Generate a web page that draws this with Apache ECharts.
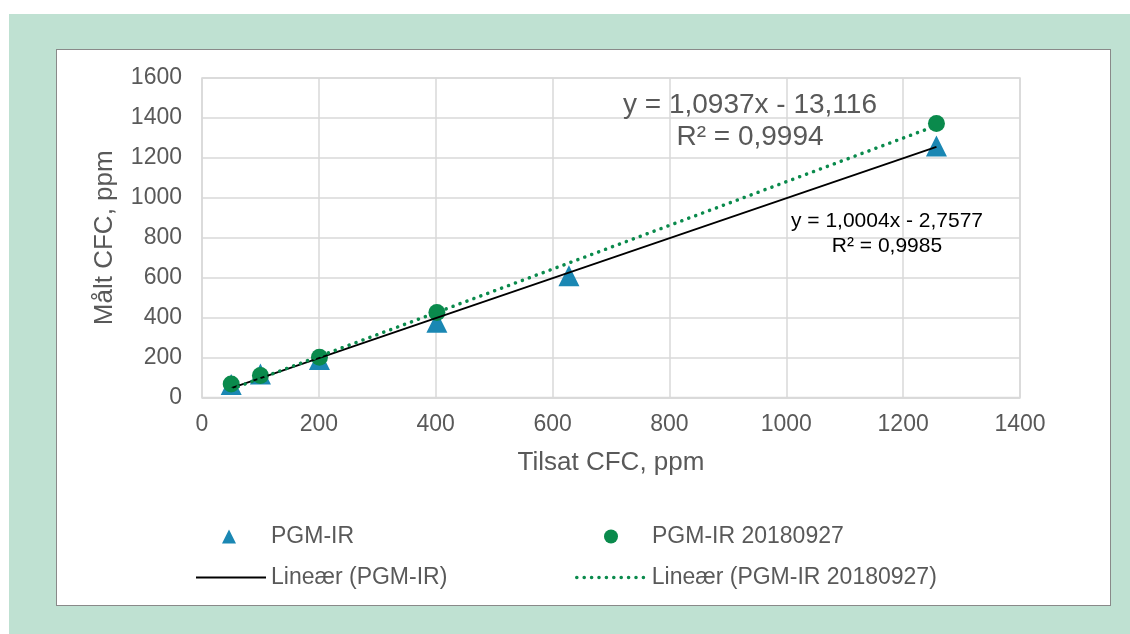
<!DOCTYPE html>
<html>
<head>
<meta charset="utf-8">
<script src="https://cdn.jsdelivr.net/npm/echarts@6/dist/echarts.min.js"></script>
<style>
html,body{margin:0;padding:0;background:#fff;overflow:hidden}
#bg{position:absolute;left:9px;top:14px;width:1121px;height:620px;background:#bfe1d2}
#box{position:absolute;left:56px;top:49px;width:1053px;height:555px;background:#fff;border:1px solid #898989}
#chart{position:absolute;left:0;top:0;width:1130px;height:634px}
</style>
</head>
<body>
<div id="bg"></div>
<div id="box"></div>
<div id="chart"></div>
<script>
// tilsat (x) og målt (y) CFC, ppm
var tilsat = [50, 100, 201, 402, 628, 1257];
var maalt = [65, 118, 190, 377, 610, 1260];
var tilsat2 = [50, 100, 201, 402, 1257];
var maalt2 = [68, 110, 202, 426, 1372];
// trendlinjer: stigning, skjæring (fra Excel-etikettene)
var trend1 = [1.0004, -2.7577];
var trend2 = [1.0937, -13.116];
var navn = ['PGM-IR', 'PGM-IR 20180927', 'Lineær (PGM-IR)', 'Lineær (PGM-IR 20180927)'];
var etikett1 = 'y = 1,0004x - 2,7577\nR² = 0,9985';
var etikett2 = 'y = 1,0937x - 13,116\nR² = 0,9994';

var font = '"Liberation Sans", Arial, sans-serif';
var blaa = '#1a87b3';
var gronn = '#0a8a4c';
var prikker = {color: gronn, width: 3.5, type: [0.1, 7.3], cap: 'round'};

function par(xs, ys) {
	return xs.map(function (x, i) { return [x, ys[i]]; });
}
function linje(xs, t) {
	var a = Math.min.apply(null, xs), b = Math.max.apply(null, xs);
	return [[a, t[0] * a + t[1]], [b, t[0] * b + t[1]]];
}
function legende(name, left, top, w, tekstLuft) {
	return {
		data: [name], left: left, top: top, padding: 0,
		itemWidth: w, itemHeight: 14, selectedMode: false,
		itemStyle: w > 20 ? {opacity: 0} : {},
		textStyle: {color: '#595959', fontSize: 23, fontFamily: font, padding: [0, 0, 0, tekstLuft]}
	};
}

var leg4 = legende(navn[3], 575, 566, 70, 0);
leg4.lineStyle = prikker;

var myChart = echarts.init(document.getElementById('chart'));
myChart.setOption({
	animation: false,
	textStyle: {fontFamily: font},
	grid: {left: 202, top: 78, right: 110, bottom: 236.5, show: true, borderColor: '#d9d9d9', borderWidth: 1.5},
	xAxis: {
		type: 'value', min: 0, max: 1400, interval: 200,
		name: 'Tilsat CFC, ppm', nameLocation: 'middle', nameGap: 52,
		nameTextStyle: {color: '#595959', fontSize: 26},
		axisLine: {show: true, lineStyle: {color: '#d9d9d9', width: 1.5}},
		axisTick: {show: false},
		axisLabel: {color: '#595959', fontSize: 23, margin: 16, formatter: function (v) { return String(v); }},
		splitLine: {lineStyle: {color: '#d9d9d9', width: 1.5}}
	},
	yAxis: {
		type: 'value', min: 0, max: 1600, interval: 200,
		name: 'Målt CFC, ppm', nameLocation: 'middle', nameGap: 84,
		nameTextStyle: {color: '#595959', fontSize: 26},
		axisLine: {show: false},
		axisTick: {show: false},
		axisLabel: {color: '#595959', fontSize: 23, margin: 20, formatter: function (v) { return String(v); }},
		splitLine: {lineStyle: {color: '#d9d9d9', width: 1.5}}
	},
	legend: [
		legende(navn[0], 222, 525, 14, 30),
		legende(navn[1], 604, 525, 14, 29),
		legende(navn[2], 195, 566, 70, 0),
		leg4
	],
	series: [
		{name: navn[0], type: 'scatter', symbol: 'triangle', symbolSize: 21, itemStyle: {color: blaa, opacity: 1}, data: par(tilsat, maalt), z: 2},
		{name: navn[1], type: 'scatter', symbol: 'circle', symbolSize: 17, itemStyle: {color: gronn, opacity: 1}, data: par(tilsat2, maalt2), z: 3},
		{name: navn[2], type: 'line', symbol: 'none', lineStyle: {color: '#000', width: 1.8}, itemStyle: {color: '#000'}, data: linje(tilsat, trend1), z: 4},
		{name: navn[3], type: 'line', symbol: 'none', lineStyle: prikker, itemStyle: {color: gronn}, data: linje(tilsat2, trend2), z: 5}
	],
	graphic: [
		{type: 'text', x: 750, y: 121, z: 100, style: {text: etikett2, fill: '#595959', font: '28px ' + font, align: 'center', verticalAlign: 'middle', lineHeight: 32}},
		{type: 'text', x: 887, y: 233.5, z: 100, style: {text: etikett1, fill: '#000', font: '21px ' + font, align: 'center', verticalAlign: 'middle', lineHeight: 25}}
	]
});
</script>
</body>
</html>
